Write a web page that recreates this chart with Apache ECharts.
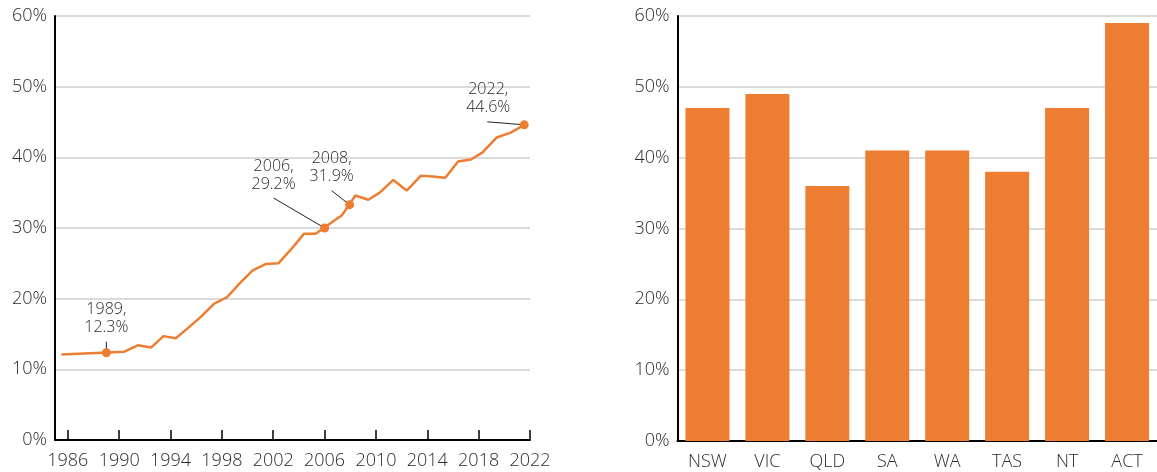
<!DOCTYPE html>
<html>
<head>
<meta charset="utf-8">
<script src="https://cdn.jsdelivr.net/npm/echarts@6/dist/echarts.min.js"></script>
<style>
  html, body { margin: 0; padding: 0; background: #fff; }
  #chart { width: 1157px; height: 472px; }
</style>
</head>
<body>
<div id="chart"></div>
<script>
// line chart: share over time (x positions as plotted on the year axis)
const lineYears = [1985.5, 1990.4, 1991.45, 1992.5, 1993.45, 1994.4, 1995.4, 1996.4, 1997.4, 1998.4,
  1999.4, 2000.4, 2001.4, 2002.4, 2003.4, 2004.4, 2005.3, 2007.35, 2008.4, 2009.4,
  2010.3, 2011.35, 2012.4, 2013.5, 2014.4, 2015.4, 2016.4, 2017.4, 2018.3, 2019.4,
  2020.5, 2021.55];
const lineValues = [12.1, 12.5, 13.4, 13.1, 14.7, 14.4, 15.9, 17.5, 19.3, 20.2,
  22.2, 24.0, 24.9, 25.0, 27.0, 29.2, 29.2, 31.8, 34.6, 34.0,
  35.0, 36.8, 35.3, 37.4, 37.3, 37.1, 39.4, 39.7, 40.7, 42.8,
  43.5, 44.6];

// highlighted points
const calloutYears = [1989.0, 2006.0, 2007.95, 2021.55];
const calloutValues = [12.35, 30.0, 33.3, 44.6];
const calloutLabels = ["1989,\n12.3%", "2006,\n29.2%", "2008,\n31.9%", "2022,\n44.6%"];

const yearTicks = [1986, 1990, 1994, 1998, 2002, 2006, 2010, 2014, 2018, 2022];

// bar chart: by state / territory
const states = ["NSW", "VIC", "QLD", "SA", "WA", "TAS", "NT", "ACT"];
const stateValues = [47, 49, 36, 41, 41, 38, 47, 59];

const orange = "#ED7D31";
const textColor = "#2b2b2b";
const font = "'Open Sans', 'Noto Sans', sans-serif";

// pixel offsets of callout text and leader line start, relative to the point
const calloutText = [[0, -34], [-51, -53], [-18, -37], [-36, -26]];
const calloutLine = [[0, -11], [-51, -30], [-18, -14], [-37, -3]];

const pctAxis = (gridIndex) => ({
  type: "value",
  gridIndex: gridIndex,
  min: 0,
  max: 60,
  interval: 10,
  axisLine: { show: true, lineStyle: { color: "#000", width: 2 } },
  axisTick: { show: false },
  axisLabel: {
    formatter: "{value}%",
    color: textColor,
    fontSize: 18,
    fontWeight: 300,
    fontFamily: font,
    margin: 8
  },
  splitLine: { lineStyle: { color: "#cfcfcf", width: 1.5 } }
});

const options = {
  animation: false,
  backgroundColor: "#fff",
  grid: [
    { left: 55, top: 16, right: 627, bottom: 32 },
    { left: 677.5, top: 16, right: -5, bottom: 31 }
  ],
  xAxis: [
    {
      type: "value",
      gridIndex: 0,
      min: 1985,
      max: 2022,
      axisLine: { show: true, lineStyle: { color: "#000", width: 2 } },
      axisTick: {
        show: true,
        inside: true,
        length: 10,
        customValues: yearTicks,
        lineStyle: { color: "#000", width: 1.5 }
      },
      axisLabel: {
        customValues: yearTicks,
        formatter: (v) => String(v),
        color: textColor,
        fontSize: 18,
        fontWeight: 300,
        fontFamily: font,
        margin: 12
      },
      splitLine: { show: false }
    },
    {
      type: "category",
      gridIndex: 1,
      data: states,
      axisLine: { show: true, lineStyle: { color: "#000", width: 2 } },
      axisTick: { show: false },
      axisLabel: {
        color: textColor,
        fontSize: 18,
        fontWeight: 300,
        fontFamily: font,
        margin: 12
      }
    }
  ],
  yAxis: [pctAxis(0), pctAxis(1)],
  series: [
    {
      type: "line",
      xAxisIndex: 0,
      yAxisIndex: 0,
      data: lineYears.map((y, i) => [y, lineValues[i]]),
      showSymbol: false,
      lineStyle: { color: orange, width: 2.5 },
      itemStyle: { color: orange },
      z: 2
    },
    {
      type: "custom",
      xAxisIndex: 0,
      yAxisIndex: 0,
      data: calloutYears.map((y, i) => [y, calloutValues[i]]),
      renderItem: (params, api) => {
        const i = params.dataIndex;
        const p = api.coord([api.value(0), api.value(1)]);
        return {
          type: "group",
          children: [
            {
              type: "line",
              shape: {
                x1: p[0] + calloutLine[i][0], y1: p[1] + calloutLine[i][1],
                x2: p[0], y2: p[1]
              },
              style: { stroke: "#222", lineWidth: 1 }
            },
            {
              type: "circle",
              shape: { cx: p[0], cy: p[1], r: 4.5 },
              style: { fill: orange }
            },
            {
              type: "text",
              x: p[0] + calloutText[i][0],
              y: p[1] + calloutText[i][1],
              style: {
                text: calloutLabels[i],
                fill: textColor,
                fontSize: 16,
                fontWeight: 300,
                fontFamily: font,
                lineHeight: 18,
                align: "center",
                verticalAlign: "middle"
              }
            }
          ]
        };
      },
      z: 3
    },
    {
      type: "bar",
      xAxisIndex: 1,
      yAxisIndex: 1,
      data: stateValues,
      barWidth: 44,
      itemStyle: { color: orange }
    }
  ]
};

const chart = echarts.init(document.getElementById("chart"));
chart.setOption(options);
</script>
</body>
</html>
